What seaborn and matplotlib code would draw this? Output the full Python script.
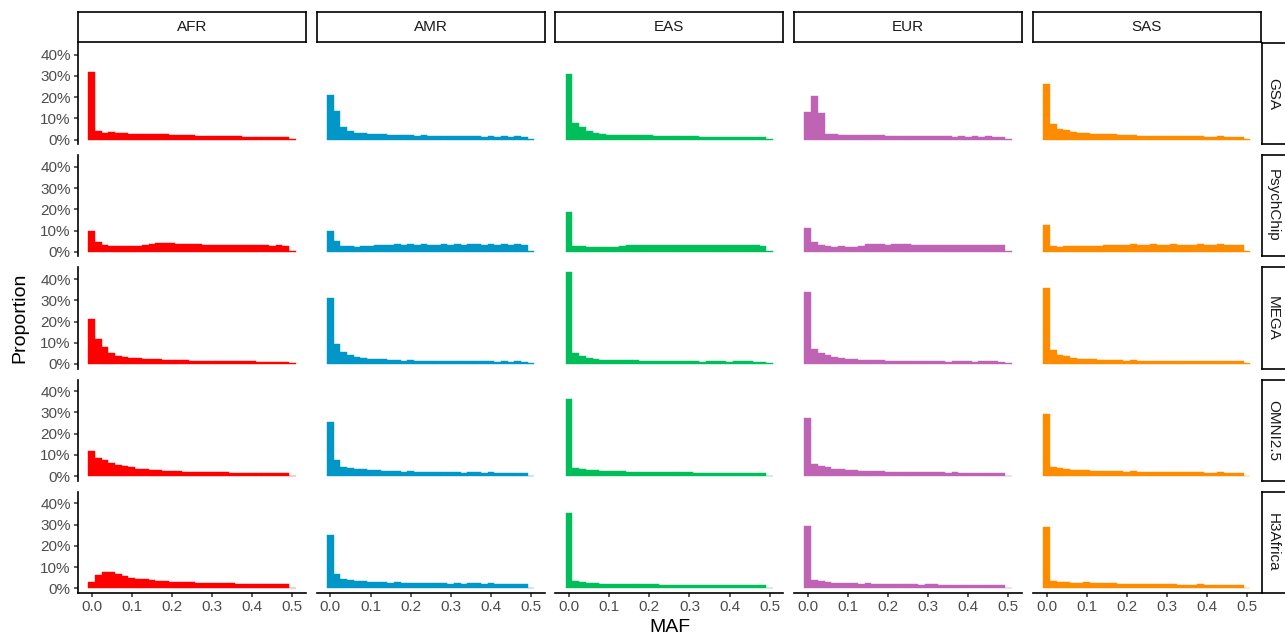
import numpy as np
import pandas as pd
import matplotlib
matplotlib.use("Agg")
import matplotlib.pyplot as plt
import seaborn as sns
from matplotlib.ticker import FuncFormatter

sns.set_style("white")
plt.rcParams["font.family"] = ["Liberation Sans", "DejaVu Sans"]

# ---------------- data ----------------
POPULATIONS = ["AFR", "AMR", "EAS", "EUR", "SAS"]
ARRAYS = ["GSA", "PsychChip", "MEGA", "OMNI2.5", "H3Africa"]
POP_COLORS = ["#FF0000", "#0096C8", "#00BE5A", "#BF64B4", "#FF8C00"]
BIN_WIDTH = 1 / 60          # histogram bin width on MAF
N_BINS = 31                 # bins centred on 0 ... 0.5
X_TICKS = [0.0, 0.1, 0.2, 0.3, 0.4, 0.5]
Y_TICKS = [0, 10, 20, 30, 40]

# proportion (%) of variants per MAF bin, one list per population x array
AFR_GSA = [31.8, 3.9, 3.2, 3.5, 3.2, 3.2, 2.7, 2.7, 2.7, 2.7, 2.7, 2.7, 2.2, 2.2, 2.2, 2.2,
           1.7, 1.7, 1.7, 1.7, 1.7, 1.7, 1.7, 1.1, 1.1, 1.1, 1.1, 1.1, 1.1, 1.1, 0.2]
AFR_PSYCHCHIP = [9.8, 4.6, 3.2, 2.7, 2.7, 2.7, 2.7, 2.7, 3.2, 3.8, 4.3, 4.3, 4.3, 3.8, 3.8, 3.8,
                 3.8, 3.2, 3.2, 3.2, 3.2, 3.2, 3.2, 3.2, 3.2, 3.2, 3.2, 2.7, 3.2, 2.7, 0.3]
AFR_MEGA = [21.0, 11.7, 8.1, 5.2, 3.8, 3.5, 3.0, 3.0, 2.5, 2.5, 2.5, 2.1, 2.1, 2.1, 2.1, 1.6,
            1.6, 1.6, 1.6, 1.6, 1.6, 1.6, 1.6, 1.6, 1.6, 1.1, 1.1, 1.1, 1.1, 1.1, 0.3]
AFR_OMNI = [11.8, 8.4, 7.7, 6.3, 5.4, 4.9, 4.1, 3.5, 3.5, 3.0, 3.0, 2.5, 2.5, 2.5, 2.1, 2.1,
            2.1, 2.1, 2.1, 2.1, 2.1, 1.6, 1.6, 1.6, 1.6, 1.6, 1.6, 1.6, 1.6, 1.6, 0.3]
AFR_H3AFRICA = [3.2, 6.3, 7.7, 7.7, 6.8, 5.8, 4.9, 4.4, 4.4, 3.9, 3.5, 3.5, 3.0, 3.0, 3.0, 3.0,
                2.5, 2.5, 2.5, 2.5, 2.5, 2.5, 2.1, 2.1, 2.1, 2.1, 2.1, 2.1, 2.1, 2.1, 0.3]

AMR_GSA = [21.0, 13.3, 5.8, 3.9, 3.0, 3.0, 2.5, 2.5, 2.5, 2.1, 2.1, 2.1, 2.1, 1.6, 2.1, 1.6,
           1.6, 1.6, 1.6, 1.6, 1.6, 1.6, 1.6, 1.1, 1.6, 1.1, 1.6, 1.1, 1.6, 1.1, 0.2]
AMR_PSYCHCHIP = [9.8, 5.1, 2.8, 2.8, 2.4, 2.8, 2.8, 3.2, 3.2, 3.2, 3.6, 3.2, 3.6, 3.2, 3.6, 3.2,
                 3.2, 3.6, 3.2, 3.6, 3.2, 3.6, 3.6, 3.2, 3.6, 3.2, 3.6, 3.2, 3.6, 3.2, 0.3]
AMR_MEGA = [31.1, 9.5, 5.7, 4.3, 3.5, 3.0, 2.5, 2.5, 2.5, 2.1, 2.1, 1.6, 2.1, 1.6, 1.6, 1.6,
            1.6, 1.6, 1.6, 1.6, 1.6, 1.6, 1.6, 1.6, 1.6, 1.1, 1.6, 1.1, 1.6, 1.1, 0.3]
AMR_OMNI = [25.3, 7.7, 4.4, 3.9, 3.5, 3.5, 3.0, 3.0, 2.5, 2.5, 2.5, 2.1, 2.5, 2.1, 2.1, 2.1,
            2.1, 2.1, 2.1, 2.1, 1.7, 2.1, 2.1, 1.7, 2.1, 1.7, 1.7, 1.7, 1.7, 1.7, 0.3]
AMR_H3AFRICA = [25.3, 6.8, 4.4, 3.9, 3.5, 3.5, 3.0, 3.0, 3.0, 2.5, 3.0, 2.5, 2.5, 2.5, 2.5, 2.5,
                2.5, 2.5, 2.1, 2.5, 2.1, 2.5, 2.5, 2.1, 2.5, 2.1, 2.1, 2.1, 2.1, 2.1, 0.3]

EAS_GSA = [31.0, 7.7, 6.0, 4.1, 3.2, 2.7, 2.2, 2.2, 2.2, 2.2, 2.2, 2.2, 2.2, 1.7, 1.7, 1.7,
           1.7, 1.7, 1.7, 1.7, 1.3, 1.3, 1.3, 1.3, 1.3, 1.3, 1.3, 1.3, 1.3, 1.3, 0.2]
EAS_PSYCHCHIP = [18.5, 2.8, 2.8, 2.4, 2.4, 2.4, 2.4, 2.4, 2.7, 3.2, 3.2, 3.2, 3.2, 3.2, 3.2, 3.2,
                 3.2, 3.2, 3.2, 3.2, 3.2, 3.2, 3.2, 3.2, 3.2, 3.2, 3.2, 3.2, 3.2, 2.7, 0.3]
EAS_MEGA = [43.3, 5.4, 3.9, 3.0, 2.5, 2.1, 2.1, 2.1, 2.1, 2.1, 2.1, 1.6, 1.6, 1.6, 1.6, 1.6,
            1.6, 1.6, 1.6, 1.6, 1.1, 1.6, 1.6, 1.6, 1.1, 1.6, 1.6, 1.6, 1.1, 1.1, 0.3]
EAS_OMNI = [36.3, 3.9, 3.5, 3.0, 3.0, 2.5, 2.5, 2.5, 2.5, 2.1, 2.1, 2.1, 2.1, 2.1, 2.1, 2.1,
            2.1, 2.1, 2.1, 1.6, 1.6, 1.6, 1.6, 1.6, 1.6, 1.6, 1.6, 1.6, 1.6, 1.6, 0.3]
EAS_H3AFRICA = [35.5, 3.6, 3.2, 2.7, 2.7, 2.2, 2.2, 2.2, 2.2, 2.2, 2.2, 2.2, 2.2, 2.2, 1.7, 1.7,
                1.7, 1.7, 1.7, 1.7, 1.7, 1.7, 1.7, 1.7, 1.7, 1.7, 1.7, 1.7, 1.7, 1.7, 0.2]

EUR_GSA = [13.0, 20.7, 12.5, 2.7, 2.7, 2.2, 2.2, 2.2, 2.2, 2.2, 2.2, 2.2, 1.7, 1.7, 1.7, 1.7,
           1.7, 1.7, 1.7, 1.7, 1.7, 1.7, 1.3, 1.7, 1.3, 1.7, 1.3, 1.7, 1.3, 1.3, 0.2]
EUR_PSYCHCHIP = [11.1, 4.6, 3.2, 2.7, 2.2, 2.7, 2.2, 2.2, 2.7, 3.6, 3.6, 3.6, 3.2, 3.6, 3.6, 3.6,
                 3.2, 3.2, 3.2, 3.2, 3.2, 3.2, 3.2, 3.2, 3.2, 3.2, 3.2, 3.2, 3.2, 3.2, 0.3]
EUR_MEGA = [34.0, 7.1, 5.2, 4.3, 3.5, 3.0, 2.5, 2.5, 2.1, 2.1, 2.1, 2.1, 1.6, 1.6, 1.6, 1.6,
            1.6, 1.6, 1.6, 1.6, 1.6, 1.1, 1.6, 1.6, 1.6, 1.1, 1.6, 1.6, 1.6, 1.1, 0.3]
EUR_OMNI = [27.2, 5.8, 4.9, 4.4, 3.5, 3.5, 3.0, 3.0, 2.5, 2.5, 2.5, 2.5, 2.1, 2.1, 2.1, 2.1,
            2.1, 2.1, 2.1, 2.1, 2.1, 1.7, 2.1, 1.7, 1.7, 1.7, 1.7, 1.7, 1.7, 1.7, 0.3]
EUR_H3AFRICA = [29.5, 4.1, 3.6, 3.2, 2.7, 2.7, 2.7, 2.7, 2.2, 2.7, 2.2, 2.2, 2.2, 2.2, 2.2, 2.2,
                2.2, 1.7, 2.2, 2.2, 1.7, 1.7, 1.7, 1.7, 1.7, 1.7, 1.7, 1.7, 1.7, 1.7, 0.2]

SAS_GSA = [26.4, 7.3, 5.1, 4.6, 3.6, 3.2, 3.2, 2.7, 2.7, 2.7, 2.7, 2.2, 2.2, 2.2, 1.7, 1.7,
           1.7, 1.7, 1.7, 1.7, 1.7, 1.7, 1.7, 1.7, 1.3, 1.3, 1.7, 1.3, 1.3, 1.3, 0.2]
SAS_PSYCHCHIP = [12.8, 2.7, 2.2, 2.7, 2.7, 2.7, 2.7, 2.7, 2.7, 3.2, 3.2, 3.2, 3.2, 3.6, 3.2, 3.2,
                 3.6, 3.2, 3.2, 3.6, 3.2, 3.2, 3.2, 3.6, 3.2, 3.2, 3.6, 3.2, 3.2, 3.2, 0.3]
SAS_MEGA = [35.9, 6.6, 4.3, 3.8, 3.0, 2.5, 2.5, 2.5, 2.1, 2.1, 2.1, 2.1, 1.6, 2.1, 1.6, 1.6,
            1.6, 1.6, 1.6, 1.6, 1.6, 1.6, 1.6, 1.6, 1.6, 1.6, 1.6, 1.6, 1.6, 1.6, 0.3]
SAS_OMNI = [29.4, 4.4, 3.9, 3.5, 3.0, 3.0, 3.0, 2.5, 2.5, 2.5, 2.5, 2.5, 2.1, 2.5, 2.1, 2.1,
            2.1, 2.1, 2.1, 2.1, 2.1, 2.1, 2.1, 2.1, 1.7, 1.7, 2.1, 1.7, 1.7, 1.7, 0.3]
SAS_H3AFRICA = [29.1, 3.6, 3.2, 3.2, 2.7, 2.7, 3.2, 2.7, 2.7, 2.7, 2.7, 2.2, 2.2, 2.2, 2.2, 2.2,
                2.2, 2.2, 2.2, 2.2, 1.7, 1.7, 1.7, 2.2, 1.7, 1.7, 1.7, 1.7, 1.7, 1.7, 0.2]

PANELS = {
    ("AFR", "GSA"): AFR_GSA, ("AFR", "PsychChip"): AFR_PSYCHCHIP, ("AFR", "MEGA"): AFR_MEGA,
    ("AFR", "OMNI2.5"): AFR_OMNI, ("AFR", "H3Africa"): AFR_H3AFRICA,
    ("AMR", "GSA"): AMR_GSA, ("AMR", "PsychChip"): AMR_PSYCHCHIP, ("AMR", "MEGA"): AMR_MEGA,
    ("AMR", "OMNI2.5"): AMR_OMNI, ("AMR", "H3Africa"): AMR_H3AFRICA,
    ("EAS", "GSA"): EAS_GSA, ("EAS", "PsychChip"): EAS_PSYCHCHIP, ("EAS", "MEGA"): EAS_MEGA,
    ("EAS", "OMNI2.5"): EAS_OMNI, ("EAS", "H3Africa"): EAS_H3AFRICA,
    ("EUR", "GSA"): EUR_GSA, ("EUR", "PsychChip"): EUR_PSYCHCHIP, ("EUR", "MEGA"): EUR_MEGA,
    ("EUR", "OMNI2.5"): EUR_OMNI, ("EUR", "H3Africa"): EUR_H3AFRICA,
    ("SAS", "GSA"): SAS_GSA, ("SAS", "PsychChip"): SAS_PSYCHCHIP, ("SAS", "MEGA"): SAS_MEGA,
    ("SAS", "OMNI2.5"): SAS_OMNI, ("SAS", "H3Africa"): SAS_H3AFRICA,
}

# long table
bin_centers = np.arange(N_BINS) * BIN_WIDTH
rows = []
for (pop, arr), vals in PANELS.items():
    for c, v in zip(bin_centers, vals):
        rows.append({"pop": pop, "array": arr, "maf": float(c), "pct": float(v)})
df = pd.DataFrame(rows)
edges = [float(c - BIN_WIDTH / 2) for c in bin_centers] + [float(bin_centers[-1] + BIN_WIDTH / 2)]

# ggplot-like 5% expansion
xr = edges[-1] - edges[0]
XLIM = (edges[0] - 0.05 * xr, edges[-1] + 0.05 * xr)
ymax = df["pct"].max()
YLIM = (-0.05 * ymax, ymax * 1.05)

# ---------------- layout (pixels) ----------------
W, H = 1285, 637
fig = plt.figure(figsize=(W / 100, H / 100), dpi=100)
fig.patch.set_facecolor("white")

col_left = [78, 316.7, 555.4, 794.1, 1032.8]
col_w = 228
row_top = [43, 155.2, 267.4, 379.6, 491.8]
row_h = 101.2

def fig_rect(x, y, w, h):
    return [x / W, 1 - (y + h) / H, w / W, h / H]

TICK_COLOR = "#333333"
LABEL_COLOR = "#4D4D4D"
TICK_FS = 11
STRIP_FS = 11
TITLE_FS = 14

for j, pop in enumerate(POPULATIONS):
    for i, arr in enumerate(ARRAYS):
        ax = fig.add_axes(fig_rect(col_left[j], row_top[i], col_w, row_h))
        sub = df[(df["pop"] == pop) & (df["array"] == arr)]
        sns.histplot(data=sub, x="maf", weights="pct", bins=edges, stat="count",
                     color=POP_COLORS[j], alpha=1, edgecolor=POP_COLORS[j],
                     linewidth=0.3, ax=ax)
        ax.set_xlim(*XLIM)
        ax.set_ylim(*YLIM)
        ax.set_xlabel("")
        ax.set_ylabel("")
        ax.set_facecolor("white")
        ax.grid(False)
        for s in ["top", "right"]:
            ax.spines[s].set_visible(False)
        ax.spines["left"].set_visible(j == 0)
        ax.spines["bottom"].set_visible(i == len(ARRAYS) - 1)
        for s in ["left", "bottom"]:
            ax.spines[s].set_color("black")
            ax.spines[s].set_linewidth(1.2)
        ax.set_xticks(X_TICKS)
        ax.set_yticks(Y_TICKS)
        ax.xaxis.set_major_formatter(FuncFormatter(lambda v, p: f"{v:.1f}"))
        ax.yaxis.set_major_formatter(FuncFormatter(lambda v, p: f"{v:.0f}%"))
        ax.tick_params(axis="both", colors=TICK_COLOR, labelcolor=LABEL_COLOR,
                       labelsize=TICK_FS, length=3.2, width=1.1, pad=2.0)
        ax.tick_params(axis="y", left=(j == 0), labelleft=(j == 0))
        ax.tick_params(axis="x", bottom=(i == len(ARRAYS) - 1),
                       labelbottom=(i == len(ARRAYS) - 1))

        # top strips
        if i == 0:
            sax = fig.add_axes(fig_rect(col_left[j], 12, col_w, 30))
            sax.set_xticks([]); sax.set_yticks([])
            sax.set_facecolor("white")
            for s in sax.spines.values():
                s.set_visible(True); s.set_color("black"); s.set_linewidth(1.2)
            sax.text(0.5, 0.5, pop, ha="center", va="center", fontsize=STRIP_FS,
                     color="#1A1A1A", transform=sax.transAxes)
        # right strips
        if j == len(POPULATIONS) - 1:
            rax = fig.add_axes(fig_rect(1262, row_top[i], 24, row_h))
            rax.set_xticks([]); rax.set_yticks([])
            rax.set_facecolor("white")
            for s in rax.spines.values():
                s.set_visible(True); s.set_color("black"); s.set_linewidth(1.2)
            rax.text(0.45, 0.5, arr, ha="center", va="center", fontsize=STRIP_FS,
                     color="#1A1A1A", rotation=-90, transform=rax.transAxes)

fig.text(669.5 / W, 1 - 628 / H, "MAF", ha="center", va="center", fontsize=TITLE_FS,
         color="black")
fig.text(20 / W, 1 - 318 / H, "Proportion", ha="center", va="center", fontsize=TITLE_FS,
         rotation=90, color="black")

fig.savefig("out.png", dpi=100, facecolor="white")
